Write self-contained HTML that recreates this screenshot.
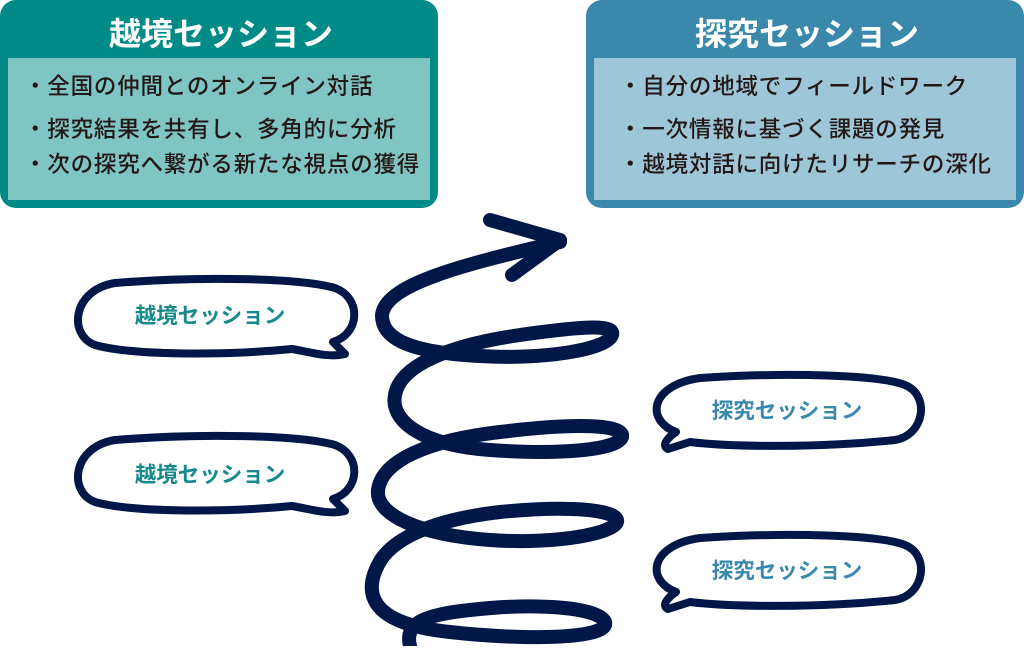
<!DOCTYPE html>
<html><head><meta charset="utf-8"><style>
body{margin:0;background:#fff;}
svg text{font-family:"Liberation Sans","Noto Sans CJK JP",sans-serif;}
</style></head><body>
<svg width="1024" height="646" viewBox="0 0 1024 646" xmlns="http://www.w3.org/2000/svg">
<rect x="0" y="0" width="438" height="208" rx="16" fill="#008b87"/>
<rect x="8" y="58" width="422" height="142" fill="#7fc5c3"/>
<text x="221" y="45" text-anchor="middle" font-size="32" font-weight="bold" fill="#fff">越境セッション</text>
<g font-size="22.5" font-weight="500" fill="#231815" letter-spacing="0.8">
<text x="24" y="94">・全国の仲間とのオンライン対話</text>
<text x="24" y="137">・探究結果を共有し、多角的に分析</text>
<text x="24" y="172">・次の探究へ繋がる新たな視点の獲得</text>
</g>
<rect x="586" y="0" width="438" height="208" rx="16" fill="#3a88ac"/>
<rect x="594" y="58" width="422" height="142" fill="#9ec6d9"/>
<text x="807" y="45" text-anchor="middle" font-size="32" font-weight="bold" fill="#fff">探究セッション</text>
<g font-size="22.5" font-weight="500" fill="#231815" letter-spacing="0.8">
<text x="619" y="94">・自分の地域でフィールドワーク</text>
<text x="619" y="137">・一次情報に基づく課題の発見</text>
<text x="619" y="172">・越境対話に向けたリサーチの深化</text>
</g>
<g fill="#fff" stroke="#001748" stroke-width="8" stroke-linejoin="round">
<path d="M115 283 C200 276,300 278,335 288 C362 298,360 334,333 342 L345 354 C328 358,310 352,292 349 C220 356,130 355,95 345 C68 335,72 290,115 283 Z"/>
<path d="M115 440 C200 433,300 435,335 445 C362 455,360 491,333 499 L345 511 C328 515,310 509,292 506 C220 513,130 512,95 502 C68 492,72 447,115 440 Z"/>
<path d="M700 378 C790 372,880 375,905 385 C930 395,925 435,895 440 C820 448,730 447,690 442 L668 449 C660 445,670 436,676 432 C645 420,650 385,700 378 Z"/>
<path d="M700 538 C790 532,880 535,905 545 C930 555,925 595,895 600 C820 608,730 607,690 602 L668 609 C660 605,670 596,676 592 C645 580,650 545,700 538 Z"/>
</g>
<g font-size="21.5" font-weight="bold" text-anchor="middle">
<text x="210" y="323" fill="#158a8a">越境セッション</text>
<text x="210" y="482" fill="#158a8a">越境セッション</text>
<text x="787" y="418" fill="#3a88ac">探究セッション</text>
<text x="787" y="578" fill="#3a88ac">探究セッション</text>
</g>
<g fill="none" stroke="#001748" stroke-width="14" stroke-linecap="round" stroke-linejoin="round">
<path d="M410 646 C405 625,420 615,470 610 C540 602,600 608,605 622 C610 640,520 640,450 632 C380 625,360 600,378 565 C390 540,430 520,500 512 C570 505,615 510,617 520 C620 532,560 545,490 540 C420 535,375 515,378 490 C382 460,430 440,500 432 C580 422,625 425,622 437 C618 450,560 455,490 450 C420 445,390 420,395 395 C400 365,450 345,520 335 C590 325,615 325,612 335 C608 350,540 360,480 356 C400 352,382 335,382 315 C385 285,460 265,560 242"/>
<path d="M490 220 L560 240 L512 275"/>
</g>
</svg>
</body></html>
